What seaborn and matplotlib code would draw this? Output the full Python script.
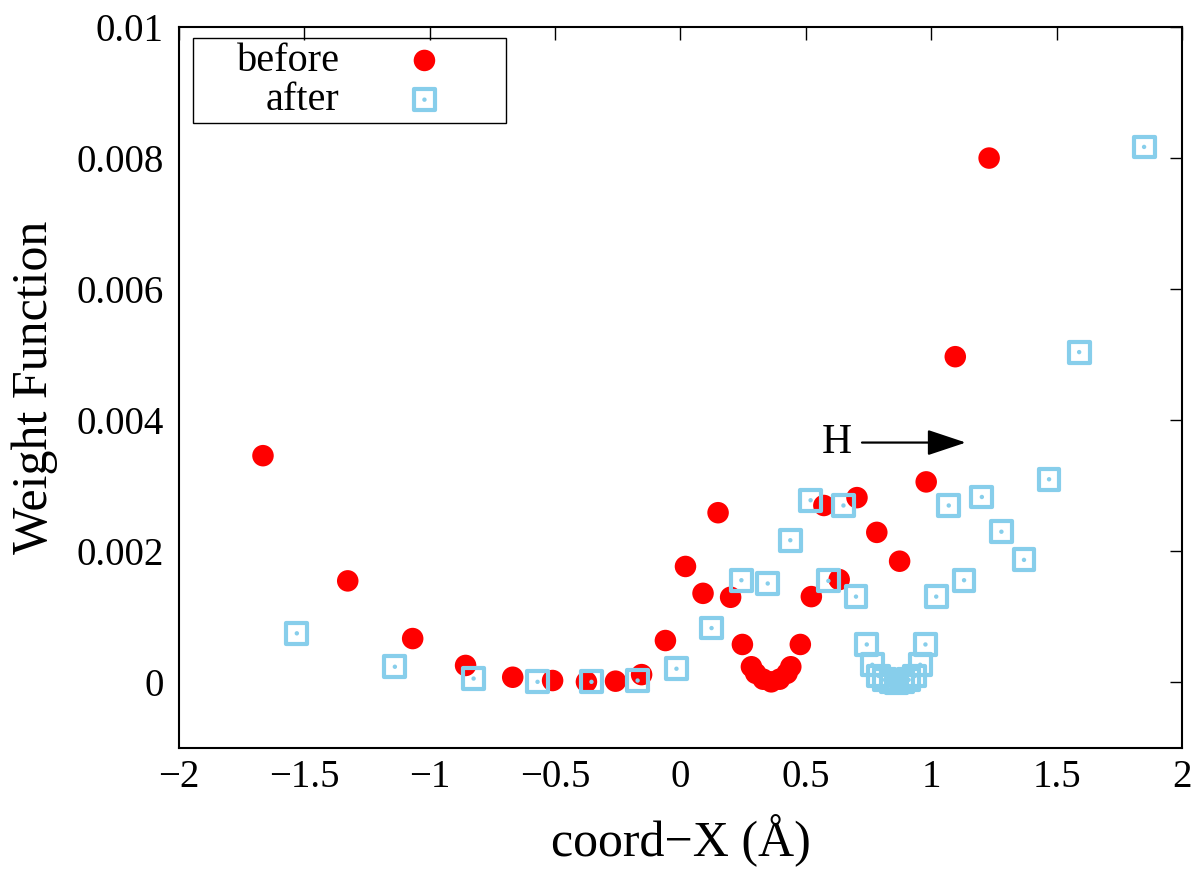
import matplotlib
matplotlib.use("Agg")
import matplotlib.pyplot as plt
from matplotlib.patches import Rectangle
import seaborn as sns
import pandas as pd

# ---- data ----
before_x = [-1.665, -1.327, -1.068, -0.857, -0.669, -0.51, -0.375, -0.259, -0.155, -0.06,
            0.02, 0.09, 0.15, 0.2, 0.247, 0.283, 0.30, 0.33, 0.362, 0.395, 0.425, 0.44,
            0.478, 0.522, 0.572, 0.633, 0.704, 0.783, 0.874, 0.98, 1.096, 1.231]
before_y = [0.00346, 0.00155, 0.00067, 0.00026, 0.00008, 0.00003, 0.00001, 0.00002, 0.00012, 0.00064,
            0.00177, 0.00136, 0.00259, 0.0013, 0.00058, 0.00024, 0.00014, 0.00005, 0.00001, 0.00005, 0.00014, 0.00024,
            0.00058, 0.00131, 0.0027, 0.00157, 0.00282, 0.00229, 0.00185, 0.00306, 0.00497, 0.008]

after_x = [-1.53, -1.139, -0.825, -0.57, -0.355, -0.171, -0.016, 0.124, 0.243, 0.348,
           0.438, 0.519, 0.59, 0.65, 0.70, 0.743, 0.765, 0.79, 0.815, 0.84, 0.862,
           0.885, 0.91, 0.935, 0.956, 0.977, 1.02, 1.07, 1.131, 1.202, 1.28, 1.37,
           1.47, 1.59, 1.849]
after_y = [0.00075, 0.00024, 0.00006, 0.00001, 0.00001, 0.00003, 0.00021, 0.00083, 0.00156, 0.00151,
           0.00217, 0.00278, 0.00155, 0.0027, 0.00131, 0.00058, 0.00027, 0.0001, 0.00004, 0.00001, 0.0,
           0.00001, 0.00004, 0.0001, 0.00027, 0.00058, 0.00131, 0.0027, 0.00156, 0.00283, 0.0023, 0.00187,
           0.0031, 0.00504, 0.00817]

x_ticks = [-2, -1.5, -1, -0.5, 0, 0.5, 1, 1.5, 2]
x_ticklabels = ["\u22122", "\u22121.5", "\u22121", "\u22120.5", "0", "0.5", "1", "1.5", "2"]
y_ticks = [0, 0.002, 0.004, 0.006, 0.008, 0.01]
y_ticklabels = ["0", "0.002", "0.004", "0.006", "0.008", "0.01"]

arrow_label = "H"
arrow_start = (0.724, 0.00366)
arrow_end = (1.138, 0.00366)
arrow_label_pos = (0.622, 0.00366)

df_before = pd.DataFrame({"x": before_x, "y": before_y})
df_after = pd.DataFrame({"x": after_x, "y": after_y})

sns.set_style("white")
plt.rcParams["font.family"] = ["Liberation Serif", "DejaVu Serif"]
plt.rcParams["text.color"] = "black"

RED = "#ff0000"
BLUE = "#87ceeb"

fig = plt.figure(figsize=(11.98, 8.84), dpi=100)
ax = fig.add_axes([0.1494, 0.1538, 0.8372, 0.8157])

sns.scatterplot(data=df_before, x="x", y="y", ax=ax, color=RED, s=240,
                marker="o", edgecolor="none", linewidth=0, zorder=3)
sns.scatterplot(data=df_after, x="x", y="y", ax=ax, marker="s", s=225,
                facecolor="none", edgecolor=BLUE, linewidth=3.0, zorder=4)
sns.scatterplot(data=df_after, x="x", y="y", ax=ax, color=BLUE, s=10,
                marker="o", edgecolor="none", linewidth=0, zorder=5)

colls = ax.collections
h_before = colls[0]
h_after = (colls[1], colls[2])

ax.set_xlim(-2, 2)
ax.set_ylim(-0.001, 0.01)
ax.set_xticks(x_ticks)
ax.set_xticklabels(x_ticklabels)
ax.set_yticks(y_ticks)
ax.set_yticklabels(y_ticklabels)

ax.tick_params(axis="both", which="major", direction="in", length=9, width=1,
               color="black", top=True, right=True, labelsize=28, labelcolor="black")
ax.tick_params(axis="y", pad=11)
ax.tick_params(axis="x", pad=8)

for sp in ax.spines.values():
    sp.set_visible(True)
    sp.set_color("black")
    sp.set_linewidth(1.5)

ax.set_xlabel("coord\u2212X (\u00c5)", fontsize=36, labelpad=13, color="black")
ax.set_ylabel("Weight Function", fontsize=36, labelpad=13, color="black")

# arrow + label
ax.annotate("", xy=arrow_end, xytext=arrow_start,
            arrowprops=dict(arrowstyle="-|>,head_length=1.2,head_width=0.4",
                            mutation_scale=20, color="black", lw=1.6,
                            shrinkA=0, shrinkB=0))
ax.text(arrow_label_pos[0], arrow_label_pos[1], arrow_label, fontsize=30,
        ha="center", va="center", color="black")

# legend
ax.add_patch(Rectangle((0.0139, 0.8669), 0.3118, 0.1178, transform=ax.transAxes,
                       fill=False, edgecolor="black", linewidth=1.0, zorder=6))
leg = ax.legend([h_before, h_after], ["before", "after"], loc="upper right",
                bbox_to_anchor=(0.2849, 0.978), frameon=False, markerfirst=False,
                fontsize=29, handlelength=2.0, handletextpad=1.1, borderpad=0,
                labelspacing=0.05, borderaxespad=0)
for t in leg.get_texts():
    t.set_color("black")

fig.savefig("out.png", dpi=100, facecolor="white")
